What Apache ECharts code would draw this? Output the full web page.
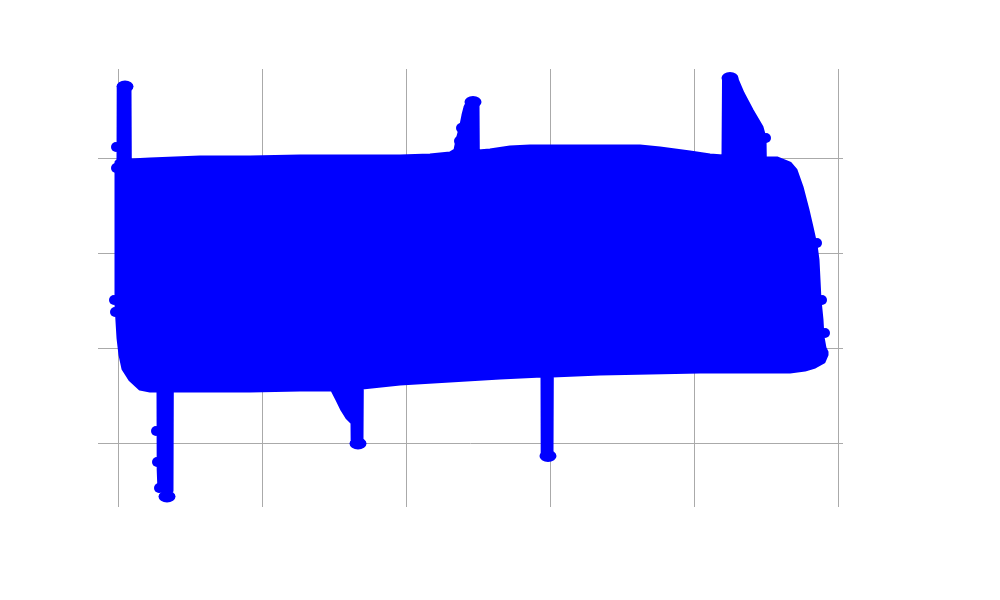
<!DOCTYPE html>
<html><head><meta charset="utf-8">
<script src="https://cdn.jsdelivr.net/npm/echarts@6/dist/echarts.min.js"></script>
<style>html,body{margin:0;padding:0;background:#fff}#c{width:1000px;height:600px}</style>
</head><body><div id="c"></div>
<script>
const xTicks = [0, 100, 200, 300, 400, 500];
const yTicks = [0, 10, 20, 30];

// upper envelope of the dense cloud (left to right)
const upperEdge = [
  [-1.39,29.58],[0,29.79],[0.14,37.37],[8.33,37.37],[8.54,29.79],[22.22,29.89],
  [56.94,30.11],[91.67,30.11],[126.39,30.21],[195.83,30.21],[216.67,30.32],[230.56,30.53],
  [234.03,30.84],[235.42,31.89],[238.19,33.47],[239.58,34.53],[240.97,35.37],[242.36,35.79],
  [250,35.79],[250.21,30.74],[258.33,30.84],[272.22,31.16],[286.11,31.26],[334.72,31.26],
  [362.5,31.26],[376.39,31.05],[397.22,30.63],[411.11,30.32],[420.14,30.21],[420.49,38.21],
  [424.72,38.53],[429.58,38.42],[434.03,36.84],[440.28,35.05],[447.22,33.26],[449.31,32.11],
  [449.51,30.0],[457.64,30.0],[466.67,29.47],[470.83,28.74],[475.0,26.95],[479.17,24.53],
  [481.94,22.74],[484.72,20.84],[486.11,19.26],[486.81,17.16],[487.5,15.05],[488.89,12.95],
  [489.58,11.16],[490.97,10.0],[492.36,9.58]
];

// lower envelope of the dense cloud (left to right)
const lowerEdge = [
  [-1.39,14.53],[0,11.05],[1.39,9.26],[3.47,7.79],[8.33,6.63],[15.28,5.68],[22.22,5.47],
  [27.78,5.47],[27.92,-2.84],[28.47,-5.05],[37.5,-5.05],[37.71,5.47],[56.94,5.47],
  [91.67,5.47],[126.39,5.58],[148.61,5.58],[152.08,4.53],[155.56,3.47],[159.03,2.63],
  [162.5,2.11],[162.6,0.32],[169.44,0.32],[169.65,5.79],[195.83,6.21],[230.56,6.53],
  [265.28,6.84],[294.44,7.05],[294.58,-1.05],[301.39,-1.05],[301.6,7.05],[334.72,7.26],
  [369.44,7.37],[404.17,7.47],[466.67,7.47],[477.08,7.68],[484.03,8.0],[490.28,8.53],
  [492.36,9.26]
];

// extreme points at spike tips
const tipPoints = [
  [4.86,37.53],[34.03,-5.63],[166.67,-0.05],[246.53,35.89],[298.61,-1.37],[425.0,38.42]
];

// isolated points along the cloud edges
const edgeDots = [
  [-1.39,31.16],[-1.39,28.95],[26.39,1.26],[27.08,-2.0],[28.47,-4.74],[450.0,32.11],
  [-2.78,15.05],[-2.08,13.79],[485.42,21.05],[488.89,15.05],[490.97,11.58],
  [236.81,31.79],[238.19,33.16]
];

const blue = '#0000ff';
const gridColor = '#aaaaaa';
const clear = 'rgba(0,0,0,0)';
// boundary split lines (at axis min/max) hidden, tick split lines shown
const xLineColors = [clear].concat(xTicks.map(() => gridColor)).concat([clear]);
const yLineColors = [clear].concat(yTicks.map(() => gridColor)).concat([clear]);

const chart = echarts.init(document.getElementById('c'), null, { renderer: 'canvas' });
chart.setOption({
  animation: false,
  grid: { left: 98, right: 157, top: 69, bottom: 93, containLabel: false },
  xAxis: {
    type: 'value', min: -13.89, max: 503.47, splitNumber: xTicks.length - 1,
    axisLine: { show: false }, axisTick: { show: false }, axisLabel: { show: false },
    splitLine: { show: true, lineStyle: { color: xLineColors, width: 1, type: 'solid' } }
  },
  yAxis: {
    type: 'value', min: -6.74, max: 39.37, splitNumber: yTicks.length,
    axisLine: { show: false }, axisTick: { show: false }, axisLabel: { show: false },
    splitLine: { show: true, lineStyle: { color: yLineColors, width: 1, type: 'solid' } }
  },
  series: [
    {
      type: 'custom',
      z: 3,
      data: [[0, 0]],
      renderItem: function (params, api) {
        const pts = upperEdge.concat(lowerEdge.slice().reverse()).map(p => api.coord(p));
        return {
          type: 'polygon',
          shape: { points: pts },
          style: { fill: blue, stroke: blue, lineWidth: 3, lineJoin: 'round' }
        };
      }
    },
    {
      type: 'scatter', z: 4, silent: true,
      data: tipPoints, symbolSize: [17, 12],
      itemStyle: { color: blue, opacity: 1 }
    },
    {
      type: 'scatter', z: 4, silent: true,
      data: edgeDots, symbolSize: 10,
      itemStyle: { color: blue, opacity: 1 }
    }
  ]
});
</script>
</body></html>
